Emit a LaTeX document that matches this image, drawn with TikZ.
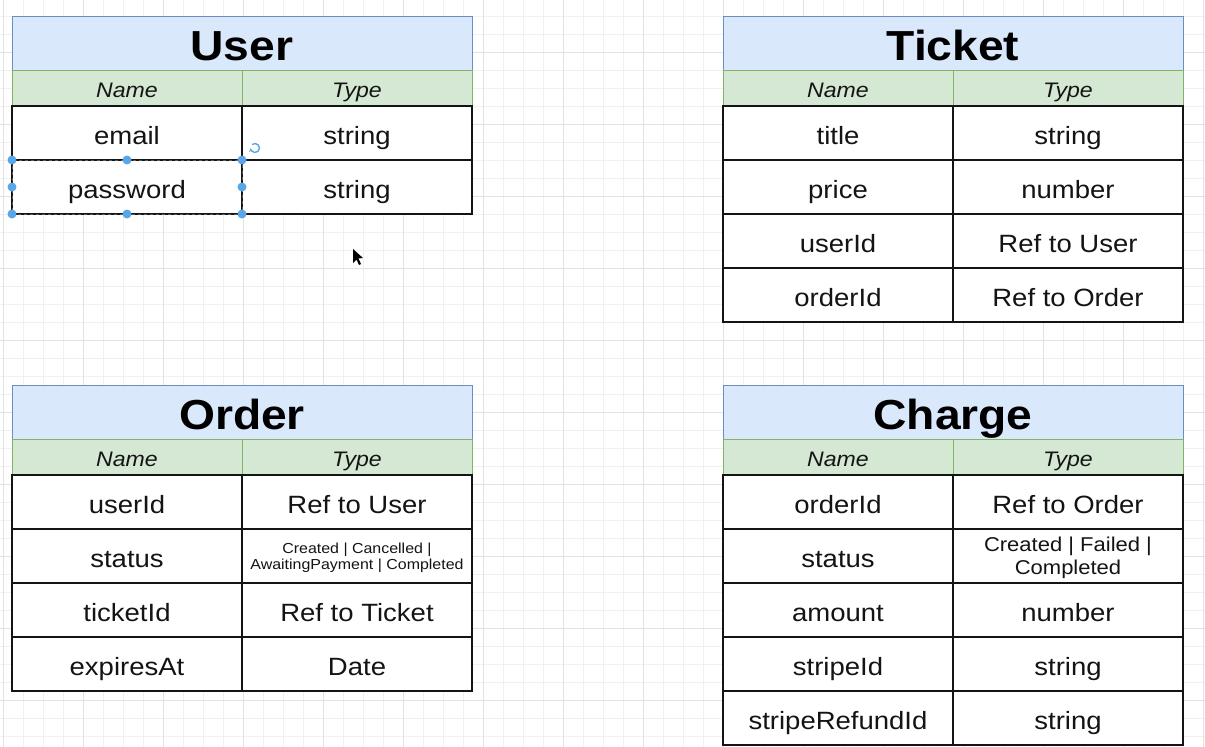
\documentclass[tikz,border=0pt]{standalone}
\usepackage{fontspec}
\setmainfont{Liberation Sans}[FakeStretch=1.1]
\usetikzlibrary{positioning}
\usetikzlibrary{arrows.meta}
\definecolor{gridminor}{RGB}{240,240,240}
\definecolor{gridmajor}{RGB}{226,226,226}
\definecolor{headfill}{RGB}{218,232,252}
\definecolor{headline}{RGB}{108,142,191}
\definecolor{colfill}{RGB}{213,232,212}
\definecolor{colline}{RGB}{130,179,102}
\definecolor{handle}{RGB}{90,166,232}
\definecolor{ink}{RGB}{20,20,20}

\tikzset{
    entity/.style={draw=headline, fill=headfill, line width=1pt, inner sep=0pt, outer sep=0pt,
        minimum width=460pt, minimum height=54pt, text height=34pt, text depth=0pt,
        font=\fontsize{42}{46}\selectfont\bfseries, text=black},
    colhead/.style={draw=colline, fill=colfill, line width=1pt, inner sep=0pt, outer sep=0pt,
        minimum width=230pt, minimum height=36pt, text height=18pt, text depth=0pt,
        font=\fontsize{21}{24}\selectfont\itshape, text=ink},
    cell/.style={draw=ink, fill=white, line width=1.7pt, inner sep=0pt, outer sep=0pt, align=center,
        minimum width=230pt, minimum height=54pt, text height=22pt, text depth=0pt,
        font=\fontsize{25}{28}\selectfont, text=ink},
    plain/.style={},
    tinytype/.style={text height=, text depth=0pt, font=\fontsize{14.5}{16}\selectfont},
    smalltype/.style={text height=, text depth=0pt, font=\fontsize{20}{23}\selectfont},
    grip/.style={circle, fill=handle, inner sep=0pt, minimum size=9pt},
}

\begin{document}
\begin{tikzpicture}[x=1pt, y=-1pt, node distance=0pt]
    \useasboundingbox (0,0) rectangle (1205,747);
    \fill[white] (0,0) rectangle (1205,747);

    % grid
    \foreach \x in {3,23,...,1203}{
        \draw[gridminor, line width=0.8pt] (\x,0) -- (\x,747);
    }
    \foreach \y in {-2,16,...,746}{
        \draw[gridminor, line width=0.8pt] (0,\y) -- (1205,\y);
    }
    \foreach \x in {3,83,...,1203}{
        \draw[gridmajor, line width=1pt] (\x,0) -- (\x,747);
    }
    \foreach \y in {52,124,...,746}{
        \draw[gridmajor, line width=1pt] (0,\y) -- (1205,\y);
    }

    % User
    \node[entity, anchor=north west] (user) at (12,16) {User};
    \node[colhead, anchor=north west] (user-n0) at (user.south west) {Name};
    \node[colhead, right=of user-n0] (user-t0) {Type};
    \foreach \n/\t [count=\i, remember=\i as \j (initially 0)] in {email/string, password/string}{
        \node[cell, below=of user-n\j] (user-n\i) {\n};
        \node[cell, below=of user-t\j] (user-t\i) {\t};
    }

    % Ticket
    \node[entity, anchor=north west] (ticket) at (723,16) {Ticket};
    \node[colhead, anchor=north west] (ticket-n0) at (ticket.south west) {Name};
    \node[colhead, right=of ticket-n0] (ticket-t0) {Type};
    \foreach \n/\t [count=\i, remember=\i as \j (initially 0)] in {title/string, price/number, userId/Ref to User, orderId/Ref to Order}{
        \node[cell, below=of ticket-n\j] (ticket-n\i) {\n};
        \node[cell, below=of ticket-t\j] (ticket-t\i) {\t};
    }

    % Order
    \node[entity, anchor=north west] (order) at (12,385) {Order};
    \node[colhead, anchor=north west] (order-n0) at (order.south west) {Name};
    \node[colhead, right=of order-n0] (order-t0) {Type};
    \foreach \n/\t/\s [count=\i, remember=\i as \j (initially 0)] in {userId/Ref to User/plain,
        status/{Created | Cancelled |\\AwaitingPayment | Completed}/tinytype,
        ticketId/Ref to Ticket/plain, expiresAt/Date/plain}{
        \node[cell, below=of order-n\j] (order-n\i) {\n};
        \node[cell, \s, below=of order-t\j] (order-t\i) {\t};
    }

    % Charge
    \node[entity, anchor=north west] (charge) at (723,385) {Charge};
    \node[colhead, anchor=north west] (charge-n0) at (charge.south west) {Name};
    \node[colhead, right=of charge-n0] (charge-t0) {Type};
    \foreach \n/\t/\s [count=\i, remember=\i as \j (initially 0)] in {orderId/Ref to Order/plain,
        status/{Created | Failed |\\Completed}/smalltype,
        amount/number/plain, stripeId/string/plain, stripeRefundId/string/plain}{
        \node[cell, below=of charge-n\j] (charge-n\i) {\n};
        \node[cell, \s, below=of charge-t\j] (charge-t\i) {\t};
    }

    % selection on password
    \draw[ink!70, dashed, line width=0.8pt] (user-n2.north west) rectangle (user-n2.south east);
    \foreach \a in {north west,north,north east,west,east,south west,south,south east}{
        \node[grip] at (user-n2.\a) {};
    }
    \coordinate (spin) at ([xshift=13pt,yshift=12pt]user-n2.north east);
    \draw[handle, line width=1.4pt, -{Stealth[length=3pt,width=4pt]}] ([shift={(130:4.5pt)}]spin)
        arc[start angle=130, end angle=-170, radius=4.5pt];

    % cursor
    \fill[black] (353,249) -- (353,263) -- (356.5,259.5) -- (359,265) -- (361,264) -- (358.5,258.5) -- (363,258) -- cycle;

\end{tikzpicture}
\end{document}
